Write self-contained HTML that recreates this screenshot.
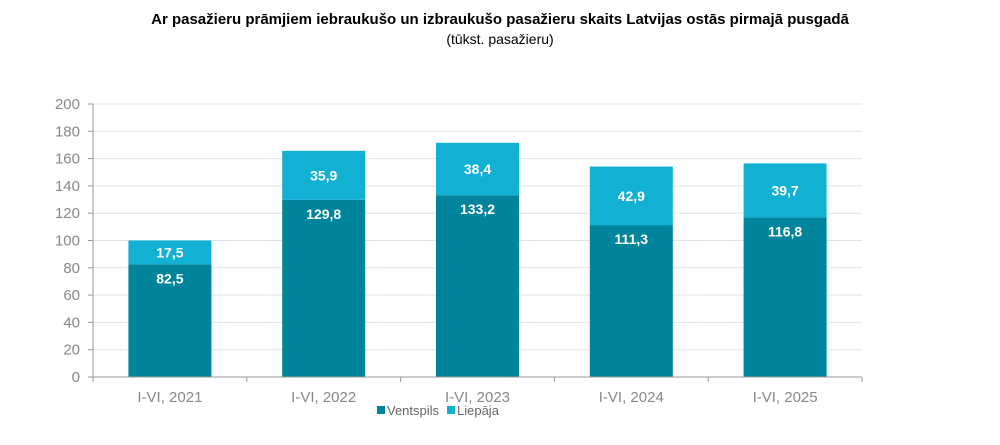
<!DOCTYPE html>
<html><head><meta charset="utf-8"><style>
body{margin:0;background:#fff;font-family:"Liberation Sans",sans-serif}
svg text{font-family:"Liberation Sans",sans-serif}
</style></head><body>
<svg width="1000" height="440">
<text x="500" y="24" text-anchor="middle" font-size="15" font-weight="bold" fill="#000">Ar pasažieru prāmjiem iebraukušo un izbraukušo pasažieru skaits Latvijas ostās pirmajā pusgadā</text>
<text x="500" y="44" text-anchor="middle" font-size="14" fill="#000">(tūkst. pasažieru)</text>
<g id="grid"></g><g id="bars"></g><g id="axes"></g>
<g>
<rect x="377" y="406" width="8" height="8" fill="#00849b"/>
<text x="387" y="415" font-size="13" fill="#666">Ventspils</text>
<rect x="447" y="406" width="8" height="8" fill="#12b0d2"/>
<text x="457" y="415" font-size="13" fill="#666">Liepāja</text>
</g>
</svg>
<script>
const categories=["I-VI, 2021","I-VI, 2022","I-VI, 2023","I-VI, 2024","I-VI, 2025"];
const ventspils=[82.5,129.8,133.2,111.3,116.8];
const liepaja=[17.5,35.9,38.4,42.9,39.7];
const yTicks=[0,20,40,60,80,100,120,140,160,180,200];
const NS="http://www.w3.org/2000/svg";
const x0=93,x1=862,y0=377,y1=104,yMax=200;
const bw=(x1-x0)/categories.length;
const Y=v=>y0-(v/yMax)*(y0-y1);
const X=i=>x0+bw*(i+0.5);
function mk(t,a,p){const e=document.createElementNS(NS,t);for(const k in a)e.setAttribute(k,a[k]);p.appendChild(e);return e;}
const grid=document.getElementById('grid'),bars=document.getElementById('bars'),axes=document.getElementById('axes');
yTicks.forEach(v=>{
 if(v>0){const l=mk('line',{x1:x0,x2:x1,y1:Y(v),y2:Y(v),stroke:'#e3e3e3','stroke-width':1},grid);
 
 }
 const tk=mk('line',{x1:x0-5,x2:x0,y1:Y(v),y2:Y(v),stroke:'#999'},axes);
 
 
 const t=mk('text',{x:x0-13,y:Y(v)+5,'text-anchor':'end','font-size':15,fill:'#888'},axes);
 t.textContent=v;
 
 
});
const ya=mk('line',{x1:x0,x2:x0,y1:y1,y2:y0,stroke:'#999'},axes);


const xa=mk('line',{x1:x0,x2:x1,y1:y0,y2:y0,stroke:'#999'},axes);


for(let i=0;i<=categories.length;i++){
 const tk=mk('line',{x1:x0+bw*i,x2:x0+bw*i,y1:y0,y2:y0+5,stroke:'#999'},axes);
 
 
}
const w=83;
categories.forEach((c,i)=>{
 const cx=X(i),v=ventspils[i],l=liepaja[i];
 const r1=mk('rect',{x:cx-w/2,y:Y(v),width:w,height:y0-Y(v),fill:'#00849b'},bars);
 
 
 const r2=mk('rect',{x:cx-w/2,y:Y(v+l),width:w,height:Y(v)-Y(v+l),fill:'#12b0d2'},bars);
 
 
 const t1=mk('text',{x:cx,y:Y(v)+19,'text-anchor':'middle','font-size':14,'font-weight':'bold',fill:'#fff'},bars);
 t1.textContent=String(v).replace('.',',');
 
 
 const t2=mk('text',{x:cx,y:(Y(v)+Y(v+l))/2+5,'text-anchor':'middle','font-size':14,'font-weight':'bold',fill:'#fff'},bars);
 t2.textContent=String(l).replace('.',',');
 
 
 const ct=mk('text',{x:cx,y:402,'text-anchor':'middle','font-size':15,fill:'#888'},axes);
 ct.textContent=c;
 
 
});
</script>
</body></html>
